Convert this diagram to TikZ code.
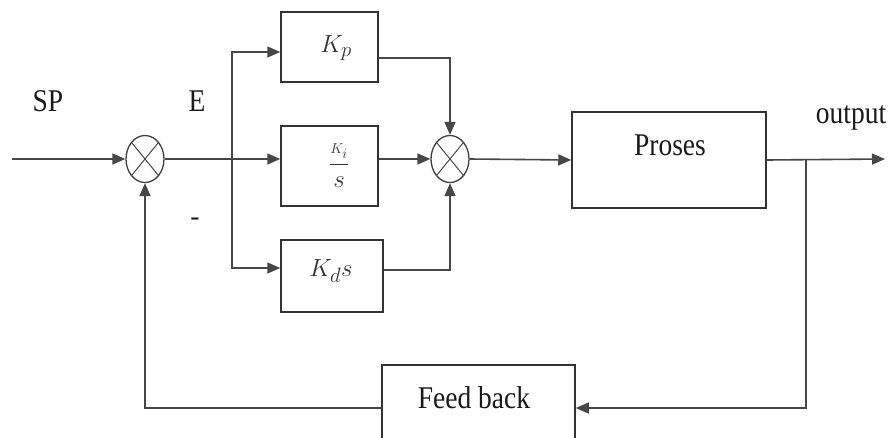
\documentclass[tikz,border=0pt]{standalone}
\usepackage{fontspec}
\setmainfont{Liberation Serif}
\usetikzlibrary{arrows.meta,shapes.geometric}
\newcommand{\tallt}[1]{\scalebox{1}[1.15]{#1}}
\begin{document}
\begin{tikzpicture}[x=1pt,y=-1pt,
  ln/.style={draw=black!72, line width=1.6pt},
  arr/.style={ln, -{Triangle[length=13pt,width=11pt]}},
  blk/.style={draw=black!80, line width=1.5pt, rectangle, inner sep=0pt},
  sumj/.style={draw=black!75, line width=1.3pt, ellipse, minimum width=38pt, minimum height=47pt, inner sep=0pt},
  lbl/.style={font=\fontsize{27.5}{30}\selectfont, inner sep=0pt, text=black!90},
  mlbl/.style={font=\fontsize{31}{34}\selectfont, inner sep=0pt, text=black!80}]
\useasboundingbox (0,0) rectangle (892,437);
\clip (0,0) rectangle (892,437);

% summing junctions
\node[sumj] (s1) at (145,159) {};
\draw[ln, line width=1pt] (s1.north west) -- (s1.south east) (s1.north east) -- (s1.south west);
\node[sumj] (s2) at (450,159) {};
\draw[ln, line width=1pt] (s2.north west) -- (s2.south east) (s2.north east) -- (s2.south west);

% blocks
\node[blk, minimum width=97pt, minimum height=70pt] (kp) at (329.5,47) {};
\node[blk, minimum width=97pt, minimum height=80pt] (ki) at (329.5,166) {};
\node[blk, minimum width=102pt, minimum height=72pt] (kd) at (332,276) {};
\node[blk, minimum width=194pt, minimum height=96pt] (pr) at (669,160) {};
\node[blk, minimum width=193pt, minimum height=86pt] (fb) at (478.5,408) {};

% texts
\node[lbl] (sp) at (48,101) {\tallt{SP}};
\node[lbl] (e) at (197,101) {\tallt{E}};
\node[lbl] (minus) at (195,222) {-};
\node[mlbl] (kpt) at (336,48) {$K_p$};
\node[mlbl] (kit) at (339,166) {$\displaystyle\frac{\scriptscriptstyle K_i}{s}$};
\node[mlbl] (kdt) at (331,271) {$K_d s$};
\node[lbl] (prt) at (670,145) {\tallt{Proses}};
\node[lbl] (outt) at (851,118) {\tallt{output}};
\node[lbl] (fbt) at (474,398) {\tallt{Feed back}};

% connectors
\coordinate (in) at (12,159);
\coordinate (br1) at (232,159);
\coordinate (br2) at (806,159);
\coordinate (out) at (885,159);
\draw[arr] (in) -- (s1.west);
\draw[ln] (s1.east) -- (br1);
\draw[arr] (br1) -- (br1 -| ki.west);
\draw[arr] (br1) |- ([yshift=-5pt]kp.west);
\draw[arr] (br1) |- ([yshift=8pt]kd.west);
\draw[arr] ([yshift=-11pt]kp.east) -| (s2.north);
\draw[arr] (ki.east |- s2.west) -- (s2.west);
\draw[arr] ([yshift=6pt]kd.east) -| (s2.south);
\draw[arr] (s2.east) -- (pr.west);
\draw[arr] (pr.east) -- (out);
\draw[arr] (br2) |- (fb.east);
\draw[arr] (fb.west) -| (s1.south);
\end{tikzpicture}
\end{document}
